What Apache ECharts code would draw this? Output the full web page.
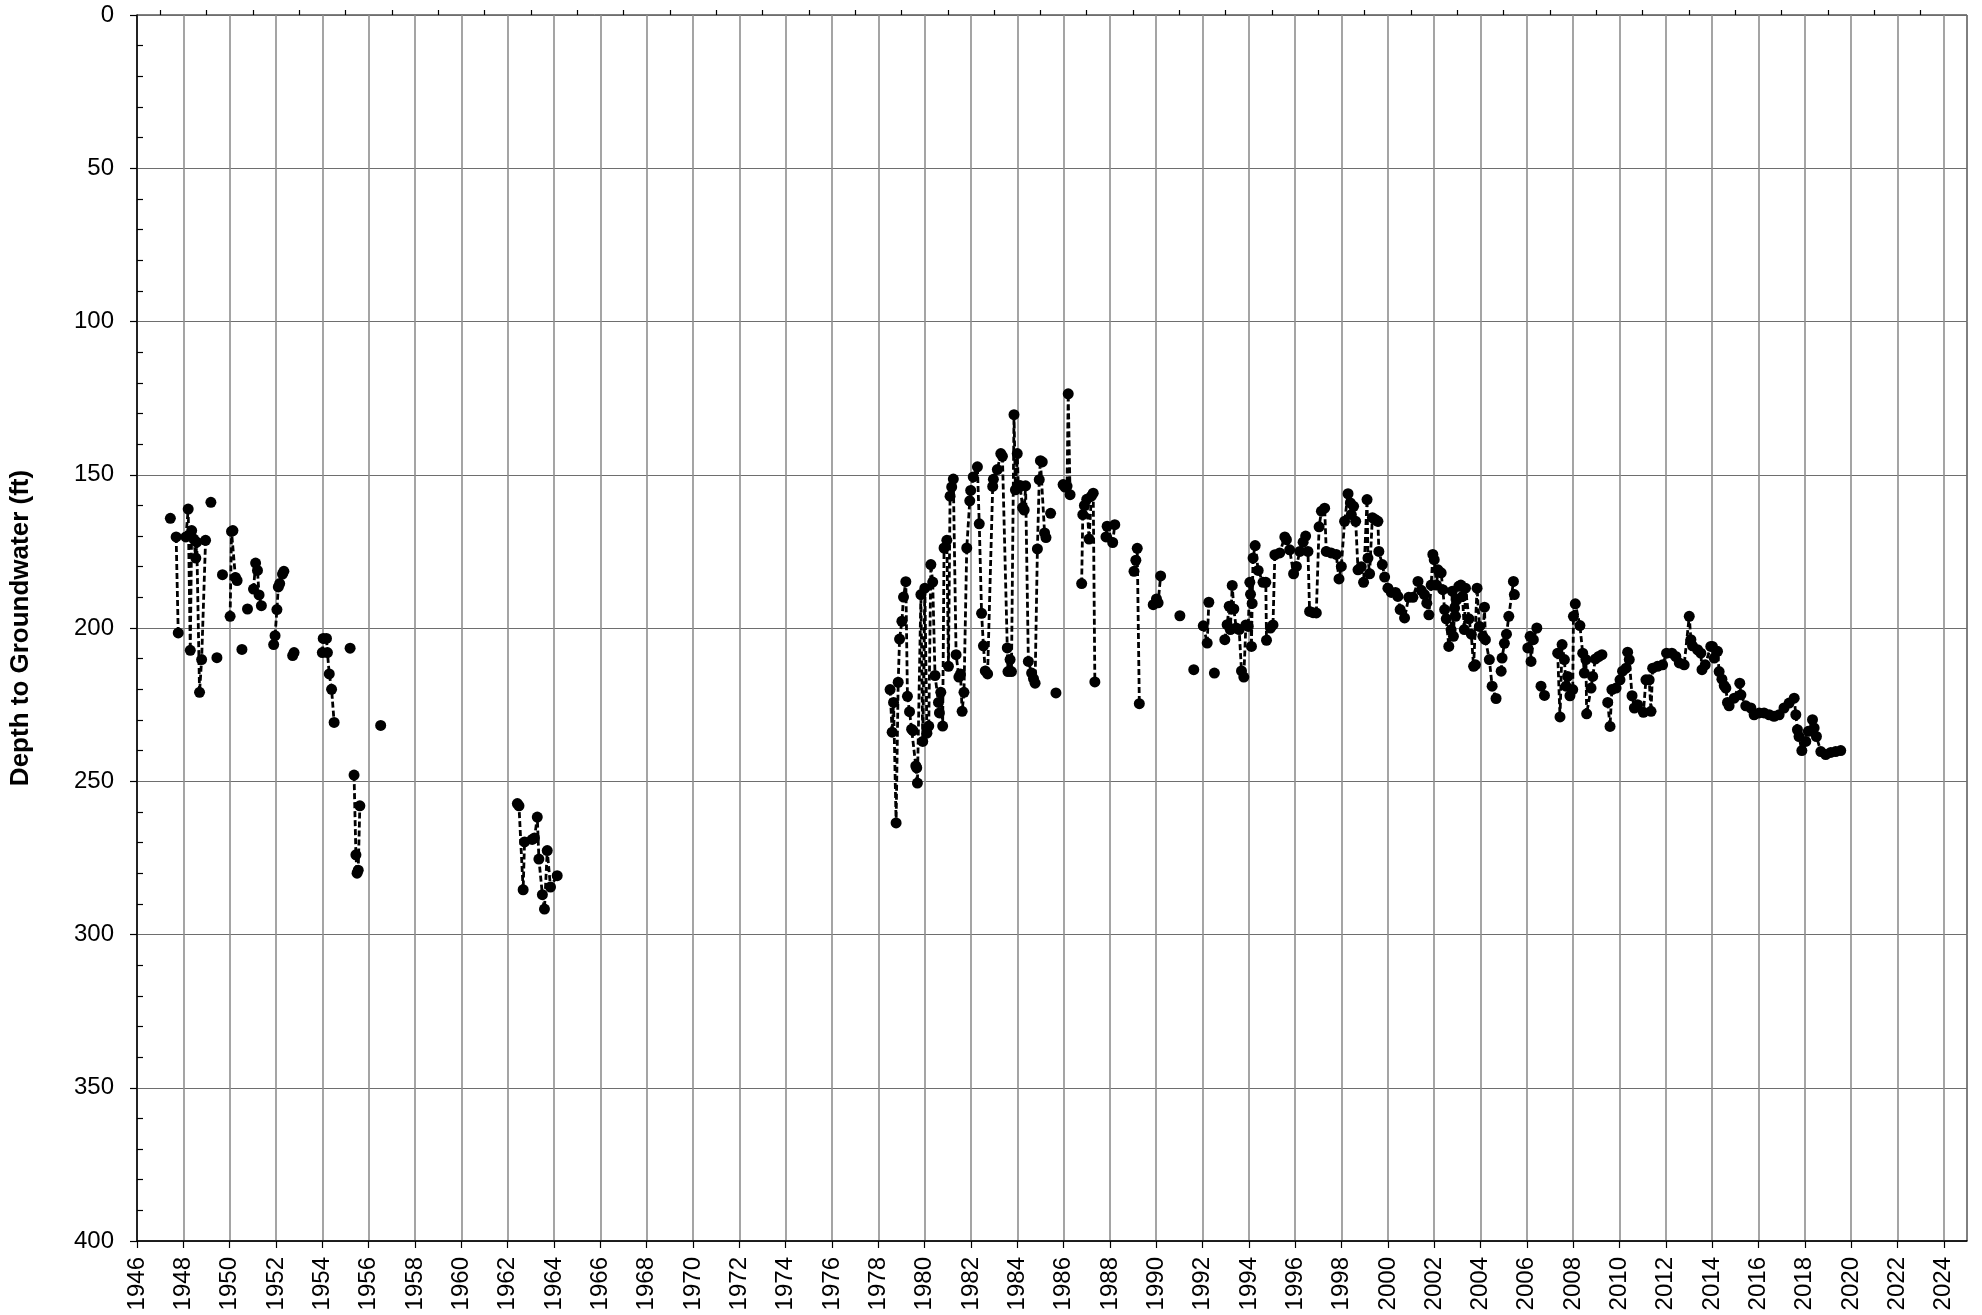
<!DOCTYPE html>
<html><head><meta charset="utf-8">
<script src="https://cdn.jsdelivr.net/npm/echarts@6/dist/echarts.min.js"></script>
<style>html,body{margin:0;padding:0;background:#fff}#c{width:1982px;height:1315px}</style>
</head><body><div id="c"></div>
<script>
// Depth to groundwater (ft) readings: [decimal year, depth]; null = gap in record
const depthEarly = [
 [1947.44,164.2], null,
 [1947.69,170.3],[1947.78,201.6], null,
 [1948.11,170.3],[1948.21,161.2],[1948.30,207.3],[1948.36,168.2],[1948.45,171.0],[1948.54,177.2],[1948.58,172.0],[1948.70,221.0],[1948.79,210.3],[1948.96,171.4], null,
 [1949.19,159.0], null,
 [1949.45,209.7], null,
 [1949.69,182.6], null,
 [1950.02,196.2],[1950.08,168.5],[1950.14,168.2],[1950.25,183.5],[1950.32,184.5], null,
 [1950.53,207.0], null,
 [1950.77,193.8], null,
 [1951.03,187.3],[1951.12,178.8],[1951.20,181.2],[1951.27,189.2],[1951.37,192.7], null,
 [1951.90,205.4],[1951.96,202.5],[1952.04,194.0],[1952.10,186.6],[1952.16,185.5],[1952.28,182.4],[1952.34,181.5], null,
 [1952.72,209.0],[1952.78,208.0], null,
 [1954.00,208.0],[1954.04,203.4],[1954.18,203.4],[1954.22,208.0],[1954.30,215.0],[1954.40,220.0],[1954.51,230.8], null,
 [1955.20,206.6], null,
 [1955.37,248.0],[1955.45,274.0],[1955.50,280.0],[1955.55,279.0],[1955.62,258.0], null,
 [1956.52,231.8]
];
const depth1960s = [
 [1962.42,257.3],[1962.49,258.0],[1962.67,285.4],[1962.73,269.8],[1963.06,269.0],[1963.16,268.5],[1963.28,261.7],
 [1963.35,275.4],[1963.50,287.0],[1963.59,291.7],[1963.71,272.6],[1963.85,284.5],[1964.14,280.8]
];
const depthModern = [
 [1978.51,220.1],[1978.60,234.0],[1978.66,224.3],[1978.77,263.6],[1978.86,217.7],[1978.92,203.6],[1979.02,197.8],[1979.09,189.9],[1979.19,184.9],[1979.26,222.3],[1979.35,227.3],[1979.44,233.0],[1979.50,233.5],[1979.62,245.0],[1979.66,245.6],[1979.69,250.6],[1979.84,189.1],[1979.92,237.0],[1980.01,187.0],[1980.10,234.3],[1980.18,232.0],[1980.27,179.3],[1980.35,185.0],[1980.45,215.5],[1980.60,224.3],[1980.64,227.7],[1980.70,221.0],[1980.78,232.0],[1980.84,173.9],[1980.96,171.4],[1981.03,212.5],[1981.10,157.0],[1981.17,154.0],[1981.24,151.4],[1981.36,208.7],[1981.48,216.0],[1981.55,215.0],[1981.62,227.2],[1981.70,221.0],[1981.82,173.9],[1981.95,158.5],[1981.99,155.1],[1982.10,150.7],[1982.28,147.4],[1982.36,166.0],[1982.46,195.2],[1982.54,205.8],[1982.62,214.0],[1982.72,215.0],[1982.94,153.8],[1982.97,151.5],[1983.14,148.3],[1983.29,143.1],[1983.36,144.0],[1983.57,206.5],[1983.60,214.2],[1983.69,210.3],[1983.75,214.2],[1983.86,130.4],[1983.92,154.9],[1984.00,143.1],[1984.05,154.3],[1984.12,153.5],[1984.23,160.7],[1984.30,161.5],[1984.36,153.6],[1984.48,210.9],[1984.62,214.7],[1984.70,216.5],[1984.77,218.0],[1984.87,174.2],[1984.95,151.6],[1985.00,145.4],[1985.08,145.8],[1985.18,169.0],[1985.24,170.5], null,
 [1985.44,162.6], null,
 [1985.67,221.2], null,
 [1985.98,153.2],[1986.06,154.0],[1986.15,153.7],[1986.20,123.6],[1986.28,156.5], null,
 [1986.78,185.5],[1986.83,163.0],[1986.90,160.0],[1987.00,158.0],[1987.10,171.0],[1987.20,157.0],[1987.28,156.0],[1987.35,217.6], null,
 [1987.83,170.3],[1987.88,166.8],[1988.12,172.1],[1988.21,166.3], null,
 [1989.04,181.5],[1989.12,177.9],[1989.18,174.0],[1989.27,224.7], null,
 [1989.87,192.4],[1990.01,190.5],[1990.08,191.8],[1990.19,183.0], null,
 [1991.02,196.0], null,
 [1991.62,213.6], null,
 [1992.03,199.3],[1992.20,204.9],[1992.27,191.6], null,
 [1992.51,214.7], null,
 [1992.96,203.8],[1993.06,198.9],[1993.15,192.9],[1993.20,200.5],[1993.28,186.1],[1993.35,193.8],[1993.45,200.0],[1993.58,200.5],[1993.68,214.0],[1993.78,216.0],[1993.87,199.0],[1993.97,199.5],[1994.04,185.1],[1994.07,189.0],[1994.11,206.0],[1994.14,192.0],[1994.18,177.2],[1994.27,173.1],[1994.40,181.2],[1994.61,185.1],[1994.73,185.1],[1994.76,204.0],[1994.93,200.0],[1995.04,199.0],[1995.12,176.1],[1995.33,175.5],[1995.55,170.3],[1995.62,171.2],[1995.76,174.5],[1995.93,182.3],[1996.05,179.9],[1996.20,175.0],[1996.34,172.0],[1996.45,170.0],[1996.55,175.0],[1996.62,194.6],[1996.77,195.0],[1996.91,195.1],[1997.03,167.0],[1997.13,161.9],[1997.27,160.9],[1997.34,175.0],[1997.55,175.5],[1997.77,176.0],[1997.89,184.0],[1997.99,179.9],[1998.13,165.2],[1998.28,156.2],[1998.38,159.2],[1998.42,163.0],[1998.52,160.3],[1998.61,165.2],[1998.71,181.0],[1998.85,180.0],[1998.95,185.1],[1999.10,158.1],[1999.14,177.2],[1999.21,182.3],[1999.33,164.0],[1999.45,164.6],[1999.57,165.2],[1999.61,175.0],[1999.76,179.3],[1999.86,183.4],[2000.00,187.0],[2000.15,188.4],[2000.33,188.4],[2000.43,189.7],[2000.53,194.0],[2000.72,196.7],[2000.90,190.0],[2001.08,190.0],[2001.30,184.8],[2001.44,187.7],[2001.58,189.1],[2001.68,191.9],[2001.77,195.7],[2001.87,186.0],[2001.94,176.0],[2002.00,177.7],[2002.10,186.0],[2002.16,181.0],[2002.30,182.0],[2002.37,187.5],[2002.45,194.0],[2002.52,197.0],[2002.63,206.0],[2002.73,200.6],[2002.78,188.0],[2002.83,202.7],[2002.88,193.5],[2002.92,196.2],[2002.97,190.8],[2003.06,186.4],[2003.15,186.0],[2003.22,189.7],[2003.30,200.5],[2003.35,187.0],[2003.50,197.0],[2003.60,202.0],[2003.70,212.5],[2003.78,212.0],[2003.85,187.0],[2003.95,199.5],[2004.10,202.7],[2004.17,193.2],[2004.21,203.8],[2004.38,210.3],[2004.50,219.0],[2004.67,223.0], null,
 [2004.89,214.1],[2004.93,209.8],[2005.03,205.0],[2005.12,202.0],[2005.22,196.2],[2005.42,184.8],[2005.46,189.1], null,
 [2006.04,206.5],[2006.14,202.7],[2006.18,210.9],[2006.28,203.8],[2006.43,200.0], null,
 [2006.61,219.0],[2006.76,222.0], null,
 [2007.33,208.2],[2007.43,229.0],[2007.52,205.4],[2007.62,210.3],[2007.69,219.0],[2007.76,215.8],[2007.86,222.1],[2007.98,220.1],[2008.01,196.2],[2008.09,192.1],[2008.29,199.2],[2008.41,208.2],[2008.48,214.7],[2008.55,210.3],[2008.58,228.0],[2008.77,219.6],[2008.84,215.8],[2008.96,210.1],[2009.10,209.3],[2009.24,208.7], null,
 [2009.49,224.3],[2009.59,232.1],[2009.67,220.1],[2009.85,219.6],[2010.02,216.9],[2010.13,214.1],[2010.28,213.1],[2010.35,207.9],[2010.42,210.3],[2010.54,222.1],[2010.64,226.1],[2010.78,225.0],[2011.03,227.5],[2011.14,216.9],[2011.28,216.9],[2011.36,227.2],[2011.43,213.1],[2011.64,212.5],[2011.86,212.0],[2012.03,208.2],[2012.26,208.2],[2012.43,209.3],[2012.58,211.4],[2012.79,212.0],[2013.01,196.2],[2013.08,203.8],[2013.15,205.8],[2013.37,207.1],[2013.51,208.2],[2013.56,213.6],[2013.70,212.0],[2013.94,206.0],[2014.01,206.0],[2014.09,209.8],[2014.23,207.6],[2014.30,214.2],[2014.42,216.7],[2014.52,218.8],[2014.59,219.6],[2014.66,224.3],[2014.73,225.4],[2014.95,222.9],[2015.19,218.0],[2015.24,221.8],[2015.45,225.4],[2015.67,226.1],[2015.81,228.3],[2016.03,227.7],[2016.24,227.7],[2016.46,228.3],[2016.67,228.8],[2016.89,228.3],[2017.10,226.1],[2017.32,224.5],[2017.54,222.9],[2017.61,228.3],[2017.68,233.2],[2017.75,235.4],[2017.87,240.0],[2018.04,237.0],[2018.15,233.7],[2018.33,229.9],[2018.40,232.6],[2018.50,235.4],[2018.69,240.3],[2018.90,241.3],[2019.12,240.6],[2019.33,240.3],[2019.55,240.0]
];

const xMin = 1946, xMax = 2025, xStep = 2;
const yMin = 0, yMax = 400, yStep = 50;
const xTickLabels = []; for (let y = xMin; y <= 2024; y += xStep) xTickLabels.push(y);
const xMinorTicks = []; for (let y = xMin + 1; y < 2024; y += xStep) xMinorTicks.push(y);
const yTickLabels = [0, 50, 100, 150, 200, 250, 300, 350, 400];
const yAxisTitle = 'Depth to Groundwater (ft)';

const GAP = ['-', '-'];
const seriesData = []
  .concat(depthEarly.map(p => p || GAP), [GAP])
  .concat(depth1960s.map(p => p || GAP), [GAP])
  .concat(depthModern.map(p => p || GAP));

const FONT = 'Liberation Sans, Arial, sans-serif';
const chart = echarts.init(document.getElementById('c'), null, {renderer: 'canvas'});
chart.setOption({
  animation: false,
  backgroundColor: '#fff',
  grid: {left: 136, top: 15, right: 15, bottom: 74, show: true, borderColor: '#000', borderWidth: 1, backgroundColor: 'transparent'},
  xAxis: [{
    type: 'value', min: xMin, max: xMax, interval: xStep, position: 'bottom',
    axisLine: {show: true, onZero: false, lineStyle: {color: '#000', width: 1.5}},
    axisTick: {show: true, inside: false, length: 7, lineStyle: {color: '#000', width: 1.2}, customValues: xTickLabels},
    axisLabel: {show: true, rotate: 90, margin: 16, fontSize: 24, color: '#000', fontFamily: FONT, customValues: xTickLabels,
      formatter: v => (xTickLabels.indexOf(v) >= 0 ? String(v) : '')},
    splitLine: {show: true, lineStyle: {color: '#8e8e8e', width: 1.6}}
  }, {
    type: 'value', min: xMin, max: xMax, interval: xStep, position: 'bottom',
    axisLine: {show: false},
    axisTick: {show: true, inside: true, length: 5, lineStyle: {color: '#000', width: 1.2}, customValues: xMinorTicks},
    axisLabel: {show: false},
    splitLine: {show: false}
  }],
  yAxis: [{
    type: 'value', min: yMin, max: yMax, interval: yStep, inverse: true, position: 'left',
    name: yAxisTitle, nameLocation: 'middle', nameGap: 103,
    nameTextStyle: {fontSize: 26, fontWeight: 'bold', color: '#000', fontFamily: FONT},
    axisLine: {show: true, onZero: false, lineStyle: {color: '#000', width: 1.5}},
    axisTick: {show: true, inside: false, length: 7, lineStyle: {color: '#000', width: 1.2}},
    axisLabel: {show: true, margin: 23, fontSize: 24, color: '#000', fontFamily: FONT},
    splitLine: {show: true, lineStyle: {color: '#6e6e6e', width: 1.2}}
  }, {
    type: 'value', min: yMin, max: yMax, interval: yStep, inverse: true, position: 'left',
    axisLine: {show: false},
    axisTick: {show: false, inside: true},
    minorTick: {show: true, splitNumber: 5, length: 6, lineStyle: {color: '#000', width: 1.2}},
    axisLabel: {show: false},
    splitLine: {show: false}
  }],
  series: [{
    type: 'line', xAxisIndex: 0, yAxisIndex: 0,
    data: seriesData, connectNulls: false,
    symbol: 'circle', symbolSize: 11, showSymbol: true,
    itemStyle: {color: '#000'},
    lineStyle: {color: '#000', width: 2.8, type: [6, 3]},
    z: 5
  }]
});
</script></body></html>
